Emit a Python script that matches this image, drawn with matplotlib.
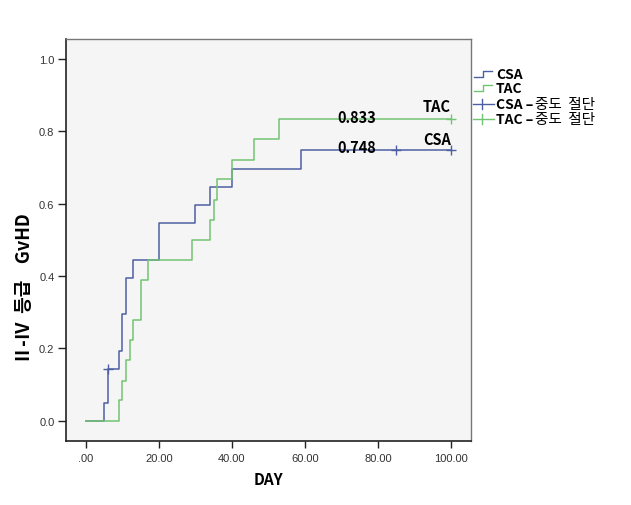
import matplotlib
matplotlib.use("Agg")
import matplotlib.pyplot as plt
from matplotlib.lines import Line2D

plt.rcParams['font.family'] = ['Noto Sans CJK KR', 'DejaVu Sans']

# ---- data ----
csa_times = [0, 5, 6, 9, 10, 11, 13, 20, 30, 34, 40, 59]
csa_cum = [0.0, 0.048, 0.143, 0.193, 0.294, 0.395, 0.445, 0.546, 0.597, 0.647, 0.697, 0.748]
csa_end = 100
csa_cens_t = [6, 85, 100]
csa_cens_y = [0.143, 0.748, 0.748]

tac_times = [0, 9, 10, 11, 12, 13, 15, 17, 29, 34, 35, 36, 40, 46, 53]
tac_cum = [0.0, 0.056, 0.111, 0.167, 0.222, 0.278, 0.389, 0.444, 0.500, 0.556, 0.611, 0.667, 0.722, 0.778, 0.833]
tac_end = 100
tac_cens_t = [100]
tac_cens_y = [0.833]

x_ticks = [0, 20, 40, 60, 80, 100]
x_tick_labels = ['.00', '20.00', '40.00', '60.00', '80.00', '100.00']
y_ticks = [0.0, 0.2, 0.4, 0.6, 0.8, 1.0]
y_tick_labels = ['0.0', '0.2', '0.4', '0.6', '0.8', '1.0']

final_labels = ['0.833', '0.748']
group_names = ['CSA', 'TAC']

# ---- style ----
c_csa = '#4d5fa3'
c_tac = '#72c472'
W, H = 631, 506

fig = plt.figure(figsize=(W / 100, H / 100), dpi=100)
fig.patch.set_facecolor('white')
ax_l, ax_r, ax_t, ax_b = 65.5, 471, 40, 441.7
ax = fig.add_axes([ax_l / W, 1 - ax_b / H, (ax_r - ax_l) / W, (ax_b - ax_t) / H])
ax.set_facecolor('#f5f5f5')

ax.step(csa_times + [csa_end], csa_cum + [csa_cum[-1]], where='post', color=c_csa, lw=1.1)
ax.step(tac_times + [tac_end], tac_cum + [tac_cum[-1]], where='post', color=c_tac, lw=1.1)
ax.plot(csa_cens_t, csa_cens_y, ls='none', marker='+', ms=7, mew=1.0, color=c_csa)
ax.plot(tac_cens_t, tac_cens_y, ls='none', marker='+', ms=7, mew=1.0, color=c_tac)

ax.set_xlim(-5.6, 105.5)
ax.set_ylim(-0.0553, 1.0553)
ax.set_xticks(x_ticks)
ax.set_xticklabels(x_tick_labels, family=['Liberation Sans'], fontsize=8, color='#333333')
ax.set_yticks(y_ticks)
ax.set_yticklabels(y_tick_labels, family=['Liberation Sans'], fontsize=8, color='#333333')
ax.tick_params(axis='both', direction='out', width=1.0, color='#222222')
ax.tick_params(axis='x', length=5, pad=4)
ax.tick_params(axis='y', length=6, pad=2)

for s in ['left', 'bottom']:
    ax.spines[s].set_color('#222222')
    ax.spines[s].set_linewidth(1.2)
for s in ['top', 'right']:
    ax.spines[s].set_color('#777777')
    ax.spines[s].set_linewidth(1.0)

ax.set_xlabel('DAY', fontsize=11, fontweight='bold', va='center')
ax.xaxis.set_label_coords(0.5, -(480 - ax_b) / (ax_b - ax_t))
ax.set_ylabel('\u2161-\u2163  등급    GvHD', fontsize=13, fontweight='bold', va='center')
ax.yaxis.set_label_coords(-(ax_l - 25) / (ax_r - ax_l), (ax_b - 289) / (ax_b - ax_t))

# annotations at the end of curves
ax.text(74.2, tac_cum[-1] + 0.008, final_labels[0], fontsize=10.5, fontweight='bold', ha='center', va='center')
ax.text(74.2, csa_cum[-1] + 0.008, final_labels[1], fontsize=10.5, fontweight='bold', ha='center', va='center')
ax.text(100, tac_cum[-1] + 0.038, group_names[1], fontsize=10.5, fontweight='bold', ha='right', va='center')
ax.text(100, csa_cum[-1] + 0.031, group_names[0], fontsize=10.5, fontweight='bold', ha='right', va='center')

# ---- legend (drawn manually, outside the axes) ----
def fx(px):
    return px / W

def fy(py):
    return 1 - py / H

rows = [
    ('step', c_csa, 'CSA', ''),
    ('step', c_tac, 'TAC', ''),
    ('cens', c_csa, 'CSA \u2013', '중도  절단'),
    ('cens', c_tac, 'TAC \u2013', '중도  절단'),
]
row_y = [75, 89, 105, 120]
for (kind, col, lab, lab2), py in zip(rows, row_y):
    if kind == 'step':
        xs = [474, 483, 483, 492]
        ys = [py + 3, py + 3, py - 3, py - 3]
        fig.add_artist(Line2D([fx(v) for v in xs], [fy(v) for v in ys], color=col, lw=1.0))
    else:
        fig.add_artist(Line2D([fx(473), fx(494)], [fy(py), fy(py)], color=col, lw=1.0))
        fig.add_artist(Line2D([fx(482), fx(482)], [fy(py - 5), fy(py + 5)], color=col, lw=1.0))
    fig.text(fx(496), fy(py), lab, fontsize=10, fontweight='bold', ha='left', va='center')
    if lab2:
        fig.text(fx(535), fy(py), lab2, fontsize=10.5, ha='left', va='center')

fig.savefig('out.png', dpi=100, facecolor='white')
